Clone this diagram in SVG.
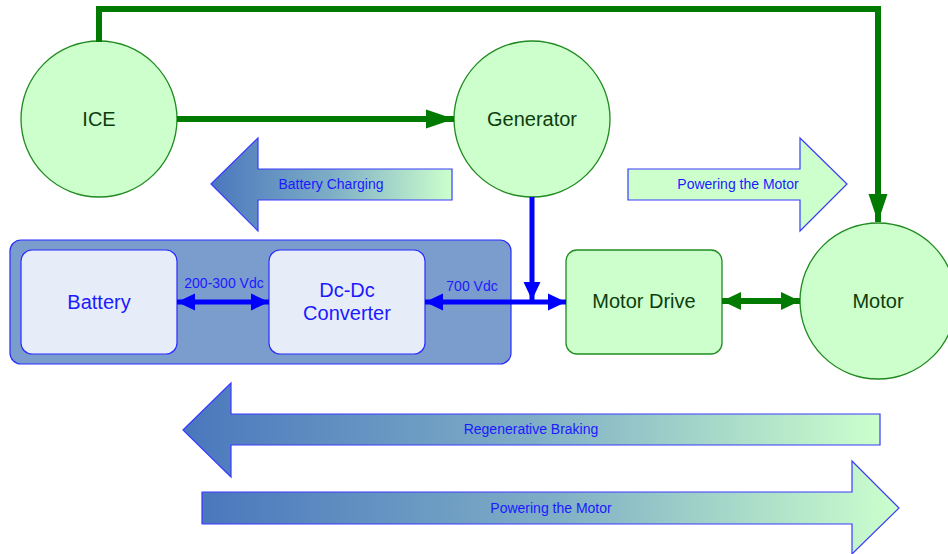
<svg xmlns="http://www.w3.org/2000/svg" width="948" height="554" viewBox="0 0 948 554">
<defs>
<style>
text{font-family:"Liberation Sans",Arial,sans-serif;text-anchor:middle;dominant-baseline:central}
.gc{fill:#ccffcc;stroke:#1f8a1f;stroke-width:1.3}
.gt{fill:#0d3d0d;font-size:20px}
.bt{fill:#1a1aff;font-size:20px}
.lt{fill:#1a1aff;font-size:14px}
.vt{fill:#1a1aff;font-size:14px}
.gl{fill:none;stroke:#007a00;stroke-width:6}
.bl{fill:none;stroke:#0000ff;stroke-width:5}
.ar{stroke:#3a3aff;stroke-width:1.2}
</style>
<linearGradient id="gL" x1="0" y1="0" x2="1" y2="0">
<stop offset="0" stop-color="#4a77bd"/><stop offset="0.5" stop-color="#7eaec6"/><stop offset="1" stop-color="#ccffcc"/>
</linearGradient>
<marker id="mg" markerUnits="userSpaceOnUse" markerWidth="30" markerHeight="20" refX="28" refY="10" orient="auto-start-reverse" viewBox="0 0 30 20">
<path d="M0,0.5 L28,10 L0,19.5 z" fill="#007a00"/>
</marker>
<marker id="mg2" markerUnits="userSpaceOnUse" markerWidth="20" markerHeight="20" refX="19" refY="10" orient="auto-start-reverse" viewBox="0 0 20 20">
<path d="M0,1 L19,10 L0,19 z" fill="#007a00"/>
</marker>
<marker id="mb" markerUnits="userSpaceOnUse" markerWidth="20" markerHeight="20" refX="18" refY="10" orient="auto-start-reverse" viewBox="0 0 20 20">
<path d="M0,1.5 L18,10 L0,18.5 z" fill="#0000ff"/>
</marker>
</defs>

<g id="flow-arrows">
<g id="battery-charging">
<path class="ar" d="M211,184 L258,138 L258,169 L452,169 L452,200 L258,200 L258,231 Z" fill="url(#gL)"/>
<text class="lt" x="331" y="184">Battery Charging</text>
</g>
<g id="powering-top">
<path class="ar" d="M628,169 L800,169 L800,138 L847,184 L800,231 L800,200 L628,200 Z" fill="#ccffcc"/>
<text class="lt" x="738" y="184">Powering the Motor</text>
</g>
<g id="regen-braking">
<path class="ar" d="M183,430 L231,383 L231,414 L880,414 L880,445 L231,445 L231,477 Z" fill="url(#gL)"/>
<text class="lt" x="531" y="429">Regenerative Braking</text>
</g>
<g id="powering-bottom">
<path class="ar" d="M202,492 L852,492 L852,461 L899,508 L852,554 L852,524 L202,524 Z" fill="url(#gL)"/>
<text class="lt" x="551" y="508">Powering the Motor</text>
</g>
</g>

<g id="storage">
<rect x="10" y="240" width="501" height="124" rx="11" fill="#7b9dce" stroke="#2a2aff" stroke-width="1.2"/>
</g>
<g id="battery">
<rect x="21" y="250" width="156" height="104" rx="11" fill="#e6ecf8" stroke="#2a2aff" stroke-width="1.2"/>
<text class="bt" x="99" y="302">Battery</text>
</g>
<g id="dcdc">
<rect x="269" y="250" width="156" height="104" rx="11" fill="#e6ecf8" stroke="#2a2aff" stroke-width="1.2"/>
<text class="bt" x="347" y="290">Dc-Dc</text>
<text class="bt" x="347" y="313">Converter</text>
</g>
<g id="ice">
<circle class="gc" cx="99" cy="119" r="78"/>
<text class="gt" x="99" y="119">ICE</text>
</g>
<g id="generator">
<circle class="gc" cx="532" cy="119" r="78"/>
<text class="gt" x="532" y="119">Generator</text>
</g>
<g id="motor-drive">
<rect class="gc" x="566" y="250" width="156" height="104" rx="11"/>
<text class="gt" x="644" y="301">Motor Drive</text>
</g>
<g id="motor">
<circle class="gc" cx="878" cy="301" r="78"/>
<text class="gt" x="878" y="301">Motor</text>
</g>

<g id="connectors">
<path class="gl" d="M99,42 L99,9 L878,9 L878,222" marker-end="url(#mg)" stroke-linejoin="miter"/>
<path class="gl" d="M177,119 L454,119" marker-end="url(#mg)"/>
<path class="gl" d="M722,301 L800,301" marker-start="url(#mg2)" marker-end="url(#mg2)" stroke-width="7"/>
<path class="bl" d="M177,302 L269,302" marker-start="url(#mb)" marker-end="url(#mb)"/>
<path class="bl" d="M425,302 L566,302" marker-start="url(#mb)" marker-end="url(#mb)"/>
<path class="bl" d="M532,197 L532,300" marker-end="url(#mb)"/>
<text class="vt" x="224" y="283">200-300 Vdc</text>
<text class="vt" x="472" y="286">700 Vdc</text>
</g>
</svg>
